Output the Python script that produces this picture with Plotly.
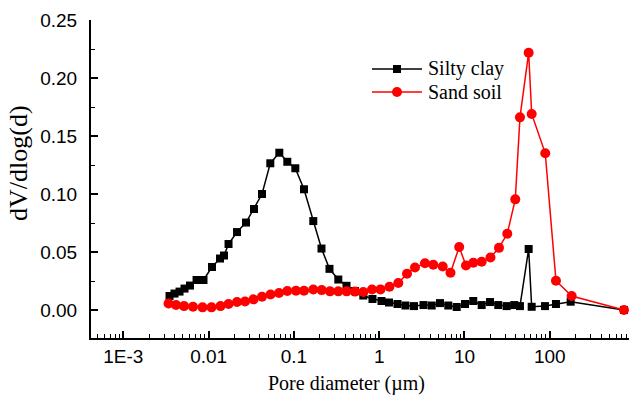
import plotly.graph_objects as go

# Pore diameter (µm) and dV/dlog(d)
silty_d = [0.00348, 0.00398, 0.00456, 0.00522, 0.00605, 0.00722, 0.00871, 0.01096,
           0.01360, 0.01515, 0.01712, 0.02152, 0.02745, 0.03406, 0.04227, 0.05288,
           0.06744, 0.08369, 0.1039, 0.1313, 0.1688, 0.2106, 0.2614, 0.3315,
           0.4136, 0.5204, 0.6510, 0.8344, 1.064, 1.303, 1.639, 2.034, 2.559,
           3.307, 4.126, 5.162, 6.459, 8.102, 10.14, 12.68, 15.91, 19.91, 24.90,
           31.24, 38.35, 44.73, 56.56, 61.36, 87.84, 118.2, 175.8, 741.3]
silty_v = [0.0121, 0.0142, 0.0159, 0.0185, 0.0211, 0.0259, 0.0259, 0.0371,
           0.0444, 0.0470, 0.0569, 0.0672, 0.0754, 0.0871, 0.1000, 0.1265,
           0.1356, 0.1278, 0.1222, 0.1041, 0.0767, 0.0530, 0.0355, 0.0263,
           0.0209, 0.0164, 0.0125, 0.0095, 0.0078, 0.0065, 0.0052, 0.0039, 0.0034,
           0.0043, 0.0039, 0.0060, 0.0039, 0.0026, 0.0052, 0.0078, 0.0043, 0.0069, 0.0043,
           0.0034, 0.0043, 0.0034, 0.0526, 0.0028, 0.0034, 0.0052, 0.0072, 0.0]

sand_d = [0.00339, 0.00415, 0.00515, 0.00656, 0.00848, 0.01081, 0.01379, 0.01712,
          0.02152, 0.02672, 0.03361, 0.04227, 0.05317, 0.06690, 0.08369, 0.1058,
          0.1313, 0.1688, 0.2118, 0.2650, 0.3315, 0.4159, 0.5204, 0.6510,
          0.8233, 1.036, 1.321, 1.675, 2.118, 2.629, 3.443, 4.308, 5.553,
          6.855, 8.667, 10.41, 12.68, 15.91, 20.18, 25.38, 31.75, 39.40,
          44.73, 56.56, 61.36, 88.55, 118.2, 180.6, 741.3]
sand_v = [0.0056, 0.0043, 0.0034, 0.0028, 0.0023, 0.0023, 0.0034, 0.0052,
          0.0069, 0.0073, 0.0092, 0.0115, 0.0134, 0.0147, 0.0164, 0.0166,
          0.0166, 0.0177, 0.0172, 0.0161, 0.0161, 0.0161, 0.0159, 0.0155,
          0.0177, 0.0178, 0.0201, 0.0233, 0.0313, 0.0366, 0.0403, 0.0391, 0.0375,
          0.0322, 0.0543, 0.0384, 0.0408, 0.0416, 0.0453, 0.0536, 0.0658, 0.0954,
          0.1661, 0.2218, 0.1690, 0.1351, 0.0253, 0.0121, 0.0]

x_tick_vals = [0.001, 0.01, 0.1, 1, 10, 100]
x_tick_text = ["1E-3", "0.01", "0.1", "1", "10", "100"]
y_tick_vals = [0.00, 0.05, 0.10, 0.15, 0.20, 0.25]

minor_x = [m * 10.0 ** e for e in range(-4, 3) for m in range(2, 10)]

W, H = 629, 396
ML, MR, MT, MB = 91, 0, 20, 58
PW, PH = W - ML - MR, H - MT - MB


def px(x):
    return (x - ML) / PW


def py(y):
    return (H - MB - y) / PH


fig = go.Figure()
fig.add_trace(go.Scatter(
    x=silty_d, y=silty_v, mode="lines+markers", name="Silty clay",
    line=dict(color="black", width=1.5),
    marker=dict(symbol="square", size=8, color="black"),
))
fig.add_trace(go.Scatter(
    x=sand_d, y=sand_v, mode="lines+markers", name="Sand soil",
    line=dict(color="#ff0000", width=1.5),
    marker=dict(symbol="circle", size=10, color="#ff0000"),
))

# manual legend (50 px line sample like the reference)
leg = [("Silty clay", "black", "rect", 4), ("Sand soil", "#ff0000", "circle", 5)]
shapes = []
annotations = []
for i, (label, col, kind, half) in enumerate(leg):
    yp = 69 + 23 * i
    shapes.append(dict(type="line", xref="paper", yref="paper",
                       x0=px(372), x1=px(422), y0=py(yp), y1=py(yp),
                       line=dict(color=col, width=1.5)))
    shapes.append(dict(type=kind, xref="paper", yref="paper",
                       xsizemode="pixel", ysizemode="pixel",
                       xanchor=px(397), yanchor=py(yp),
                       x0=-half, x1=half, y0=-half, y1=half,
                       fillcolor=col, line=dict(color=col, width=0)))
    annotations.append(dict(text=label, xref="paper", yref="paper",
                            x=px(426), y=py(yp),
                            xanchor="left", yanchor="middle", showarrow=False,
                            font=dict(family="Liberation Serif", size=20, color="black")))

# axis titles
annotations.append(dict(text="Pore diameter (µm)", xref="paper", yref="paper",
                        x=px(346), y=py(383), xanchor="center", yanchor="middle",
                        showarrow=False,
                        font=dict(family="Liberation Serif", size=20, color="black")))
annotations.append(dict(text="dV/dlog(d)", xref="paper", yref="paper",
                        x=px(18), y=py(163), xanchor="center", yanchor="middle",
                        textangle=-90, showarrow=False,
                        font=dict(family="Liberation Serif", size=26, color="black")))

fig.update_layout(
    width=W, height=H,
    margin=dict(l=ML, r=MR, t=MT, b=MB),
    paper_bgcolor="white", plot_bgcolor="white",
    showlegend=False,
    shapes=shapes, annotations=annotations,
    font=dict(family="Liberation Sans", size=19, color="black"),
)
fig.update_xaxes(
    type="log", range=[-3.379, 2.929],
    tickmode="array", tickvals=x_tick_vals, ticktext=x_tick_text,
    ticks="inside", ticklen=7, tickwidth=1.5, tickcolor="black",
    minor=dict(ticks="inside", ticklen=4, tickwidth=1.2, tickcolor="black",
               tickmode="array", tickvals=minor_x, showgrid=False),
    showline=True, linecolor="black", linewidth=2, mirror=False,
    showgrid=False, zeroline=False,
    ticklabelstandoff=0,
)
fig.update_yaxes(
    range=[-0.0241, 0.25],
    tickmode="array", tickvals=y_tick_vals, tickformat=".2f",
    ticks="inside", ticklen=7, tickwidth=1.5, tickcolor="black",
    minor=dict(ticks="inside", ticklen=4, tickwidth=1.2, tickcolor="black",
               dtick=0.025, showgrid=False),
    showline=True, linecolor="black", linewidth=2, mirror=False,
    showgrid=False, zeroline=False,
    ticklabelstandoff=8,
)

fig.write_html("out.html")
